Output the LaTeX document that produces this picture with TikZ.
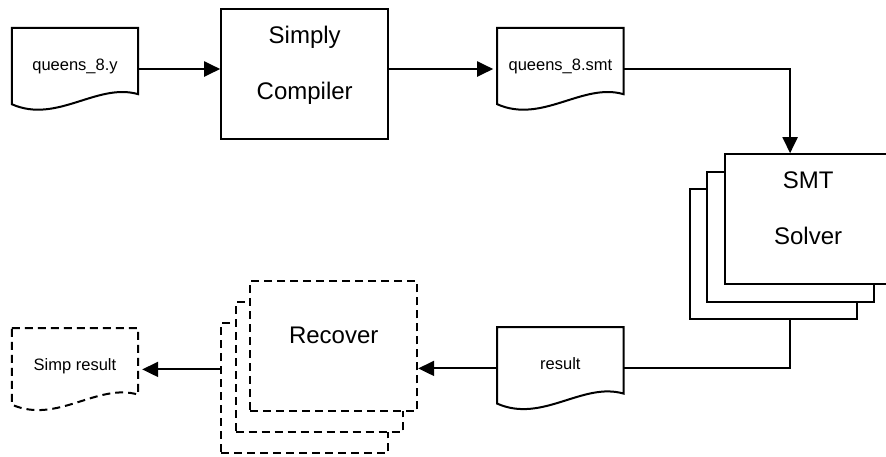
\documentclass[tikz,border=0pt]{standalone}
\usepackage{fontspec}
\setmainfont{Liberation Sans}
\usetikzlibrary{positioning,calc,backgrounds,arrows.meta}

\newcommand{\boxfont}{\fontsize{24}{56}\selectfont}
\newcommand{\docfont}{\fontsize{16.5}{20}\selectfont}

% file outline with a wavy bottom edge, drawn around a doc node
\newcommand{\docoutline}[2][]{%
  \draw[outline,#1] (#2.north west) -- (#2.north east) -- ([yshift=16pt]#2.south east)
    .. controls ([xshift=-41pt,yshift=28pt]#2.south east) and ([xshift=45pt,yshift=-14pt]#2.south west)
    .. ([yshift=6pt]#2.south west) -- cycle;}

\begin{document}
\begin{tikzpicture}[x=1pt, y=-1pt,
    box/.style={rectangle, draw=black, line width=2pt, fill=white, minimum width=167pt, minimum height=130pt, inner sep=0pt, align=center, font=\boxfont, execute at end node={\rule[-22pt]{0pt}{22pt}}},
    doc/.style={rectangle, minimum width=126pt, minimum height=82pt, inner sep=0pt, text height=12pt, text depth=10pt, font=\docfont},
    outline/.style={line width=2pt},
    dashed line/.style={dash pattern=on 8pt off 5pt},
    arrow/.style={-{Triangle[length=16pt,width=15pt]}, line width=2pt},
    link/.style={line width=2pt}
]
\useasboundingbox (0,0) rectangle (886,456);

% Top row - input file, compiler, generated file
\node[doc] (yfile) at (75,69) {queens\_8.y};
\node[box, right=82pt of yfile, yshift=-5pt] (compiler) {Simply\\Compiler};
\node[doc, right=359pt of yfile] (smtfile) {queens\_8.smt};

% Solver on the right
\node[box, below right=43pt and 100pt of smtfile] (smt) {SMT\\Solver};

% Bottom row - solver output, recovery, final result
\node[doc, below=217pt of smtfile] (resfile) {result};
\node[box, dashed line, left=79pt of resfile, yshift=22pt] (rec) {Recover};
\node[doc, below=218pt of yfile] (simp) {Simp result};

% Stacked copies behind the solver and recovery boxes
\begin{scope}[on background layer]
  \node[box] (smt3) at ([xshift=-35pt,yshift=-35pt]smt.center) {};
  \node[box] (smt2) at ([xshift=-17.5pt,yshift=-17.5pt]smt.center) {};
  \node[box, dashed line] (rec3) at ([xshift=-29pt,yshift=-42pt]rec.center) {};
  \node[box, dashed line] (rec2) at ([xshift=-14.5pt,yshift=-21pt]rec.center) {};
\end{scope}

% File outlines
\docoutline{yfile}
\docoutline{smtfile}
\docoutline{resfile}
\docoutline[dashed line]{simp}

% Arrows
\draw[arrow] (yfile.east) -- (yfile.east -| compiler.west);
\draw[arrow, shorten >=4pt] (compiler.east |- smtfile.west) -- (smtfile.west);
\draw[arrow] (smtfile.east) -| ([xshift=-18pt]smt.north);
\draw[link] ([xshift=17pt]smt3.south) |- (resfile.east);
\draw[arrow] (resfile.west) -- (resfile.west -| rec.east);
\draw[arrow, shorten >=4pt] (rec3.west |- simp.east) -- (simp.east);

\end{tikzpicture}
\end{document}
